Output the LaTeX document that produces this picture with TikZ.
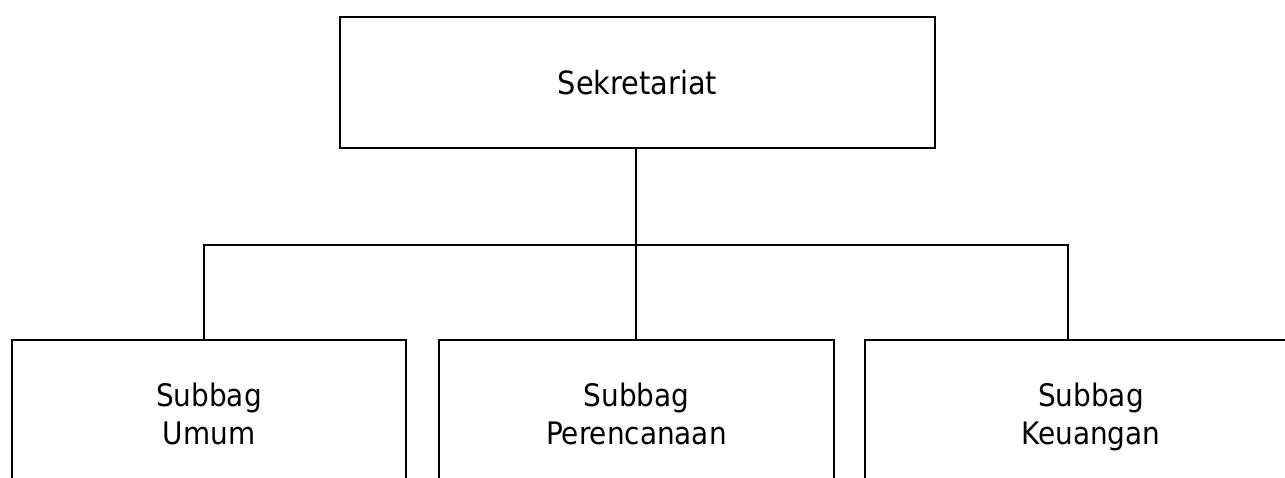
\documentclass[tikz,border=0pt]{standalone}
\usepackage{fontspec}
\setmainfont{DejaVu Sans Condensed}
\usetikzlibrary{positioning}

\begin{document}
\begin{tikzpicture}[x=1pt,y=-1pt,
    unit/.style={draw,line width=1.1pt,align=center,inner sep=0pt,
      font=\fontsize{32}{38}\selectfont},
    subunit/.style={unit,minimum height=156pt,
      font=\fontsize{31}{38}\selectfont,execute at end node=\strut},
    link/.style={line width=1.1pt},
  ]
    \useasboundingbox (0,0) rectangle (1285,478);

    \node [unit,minimum width=595pt,minimum height=131pt] (sek) at (637.5,82.5) {Sekretariat};

    \node [subunit,minimum width=394pt] (umum) at (209,418) {\strut Subbag\\Umum};
    \node [subunit,minimum width=395pt] (renc) at (636.5,418) {\strut Subbag\\Perencanaan};
    \node [subunit,minimum width=452pt] (keu)  at (1091,418) {\strut Subbag\\Keuangan};

    \coordinate (bus) at (636,245);
    \coordinate (keutop) at ([xshift=-23pt]keu.north);

    \draw [link] (sek.south -| bus) -- (bus);
    \draw [link] ([xshift=-5pt]umum.north) |- (bus) -| (keutop);
    \draw [link] (bus) -- (bus |- renc.north);

\end{tikzpicture}
\end{document}
